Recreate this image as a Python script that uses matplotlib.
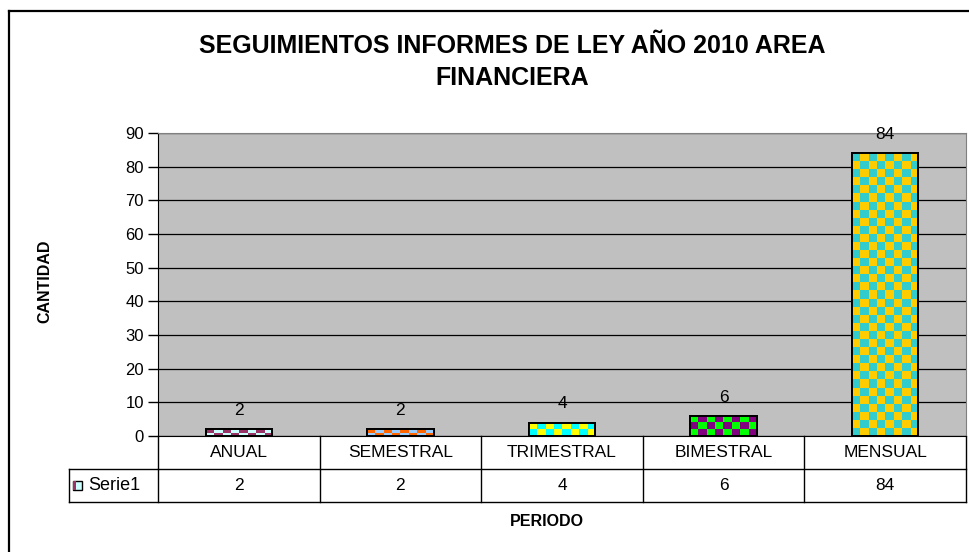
import matplotlib
matplotlib.use("Agg")
import matplotlib.pyplot as plt
import matplotlib.transforms as mtransforms
from matplotlib.patches import Rectangle
from matplotlib.lines import Line2D
import numpy as np

plt.rcParams['font.family'] = ['Liberation Sans', 'DejaVu Sans']

# datos
periodos = ['ANUAL', 'SEMESTRAL', 'TRIMESTRAL', 'BIMESTRAL', 'MENSUAL']
cantidad = [2, 2, 4, 6, 84]
serie = 'Serie1'
# colores del patron (fondo, cuadro)
colores_a = ['#993366', '#FF6600', '#FFFF00', '#800080', '#FFCC00']
colores_b = ['#CCFFFF', '#99CCFF', '#00FFFF', '#00FF00', '#33CCCC']
celda_alto = [3, 3, 8, 8, 8]   # alto de cada cuadro en pixeles

titulo = 'SEGUIMIENTOS INFORMES DE LEY AÑO 2010 AREA\nFINANCIERA'

W, H = 970, 552
fig = plt.figure(figsize=(W / 100, H / 100), dpi=100)
fig.patch.set_facecolor('white')

# marco exterior (solo borde izquierdo y superior visibles)
fig.add_artist(Line2D([9 / W, 9 / W], [0, 1 - 11 / H], color='black', lw=1.6, transform=fig.transFigure))
fig.add_artist(Line2D([9 / W, 1], [1 - 11 / H, 1 - 11 / H], color='black', lw=1.6, transform=fig.transFigure))

x0, x1, ytop, ybot = 158, 966, 133, 436
ax = fig.add_axes([x0 / W, 1 - ybot / H, (x1 - x0) / W, (ybot - ytop) / H])
ax.set_facecolor('#C0C0C0')
ax.set_xlim(-0.5, len(periodos) - 0.5)
ax.set_ylim(0, 90)
ax.set_yticks(range(0, 91, 10))
ax.set_xticks([])
ax.tick_params(axis='y', length=7, width=1, labelsize=12, pad=3, color='black')
ax.yaxis.grid(True, color='black', lw=0.9)
ax.set_axisbelow(True)
for s in ['top', 'right']:
    ax.spines[s].set_color('#808080')
ax.spines['left'].set_color('black')
ax.spines['bottom'].set_color('black')

x = np.arange(len(periodos))
ancho = 0.41
barras = ax.bar(x, cantidad, width=ancho, color=colores_a, edgecolor='black', lw=1.4, zorder=3)

# patron de cuadros dentro de cada barra
px_x = (ax.transData.transform((1, 0))[0] - ax.transData.transform((0, 0))[0])
px_y = (ax.transData.transform((0, 1))[1] - ax.transData.transform((0, 0))[1])
for i, b in enumerate(barras):
    wpx = ancho * px_x
    hpx = cantidad[i] * px_y
    nx = max(1, int(round(wpx / 8)))
    ny = max(1, int(round(hpx / celda_alto[i])))
    ii, jj = np.indices((ny, nx))
    mask = (ii + jj) % 2 == 0
    ca = np.array(matplotlib.colors.to_rgb(colores_a[i]))
    cb = np.array(matplotlib.colors.to_rgb(colores_b[i]))
    img = np.where(mask[..., None], cb, ca)
    im = ax.imshow(img, extent=(x[i] - ancho / 2, x[i] + ancho / 2, 0, cantidad[i]),
                   aspect='auto', interpolation='nearest', zorder=3.5, origin='lower')
    im.set_clip_path(b)
    ax.add_patch(Rectangle((x[i] - ancho / 2, 0), ancho, cantidad[i], fill=False,
                           edgecolor='black', lw=1.4, zorder=4))
    ax.annotate(str(cantidad[i]), (x[i], cantidad[i]), xytext=(0, 8), textcoords='offset points',
                ha='center', va='bottom', fontsize=12.5)
ax.set_xlim(-0.5, len(periodos) - 0.5)
ax.set_ylim(0, 90)

# tabla de datos
tr = mtransforms.blended_transform_factory(ax.transData, ax.transAxes)
fila = 33 / (ybot - ytop)
izq = (69 - x0) / (x1 - x0)
kw = dict(color='black', lw=1, clip_on=False)
ax.plot([-0.5, 4.5], [-fila, -fila], transform=tr, **kw)
ax.plot([izq, 1], [-2 * fila, -2 * fila], transform=ax.transAxes, **kw)
ax.plot([izq, 0], [-fila, -fila], transform=ax.transAxes, **kw)
ax.plot([izq, izq], [-fila, -2 * fila], transform=ax.transAxes, **kw)
ax.plot([1, 1], [0, -2 * fila], transform=ax.transAxes, **kw)
for k in range(len(periodos)):
    ax.plot([k - 0.5, k - 0.5], [0, -2 * fila], transform=tr, **kw)
    ax.text(x[k], -fila / 2, periodos[k], transform=tr, ha='center', va='center', fontsize=12.5)
    ax.text(x[k], -1.5 * fila, str(cantidad[k]), transform=tr, ha='center', va='center', fontsize=12.5)

# clave de la leyenda
kx = (73 - x0) / (x1 - x0)
kh = 9 / (ybot - ytop)
kwid = 9 / (x1 - x0)
ax.add_patch(Rectangle((kx, -1.5 * fila - kh / 2), kwid, kh, transform=ax.transAxes,
                       facecolor=colores_b[0], edgecolor='black', lw=1, clip_on=False))
ax.add_patch(Rectangle((kx, -1.5 * fila - kh / 2), kwid * 0.3, kh, transform=ax.transAxes,
                       facecolor=colores_a[0], edgecolor='none', clip_on=False))
ax.text(kx + 15 / (x1 - x0), -1.5 * fila, serie, transform=ax.transAxes, ha='left', va='center', fontsize=13)

fig.text(512 / W, 1 - 62 / H, titulo, ha='center', va='center', fontsize=18, fontweight='bold', linespacing=1.4)
fig.text(45 / W, 1 - 281 / H, 'CANTIDAD', rotation=90, ha='center', va='center', fontsize=11.5, fontweight='bold')
fig.text(547 / W, 1 - 522 / H, 'PERIODO', ha='center', va='center', fontsize=11.5, fontweight='bold')

fig.savefig('out.png', dpi=100)
